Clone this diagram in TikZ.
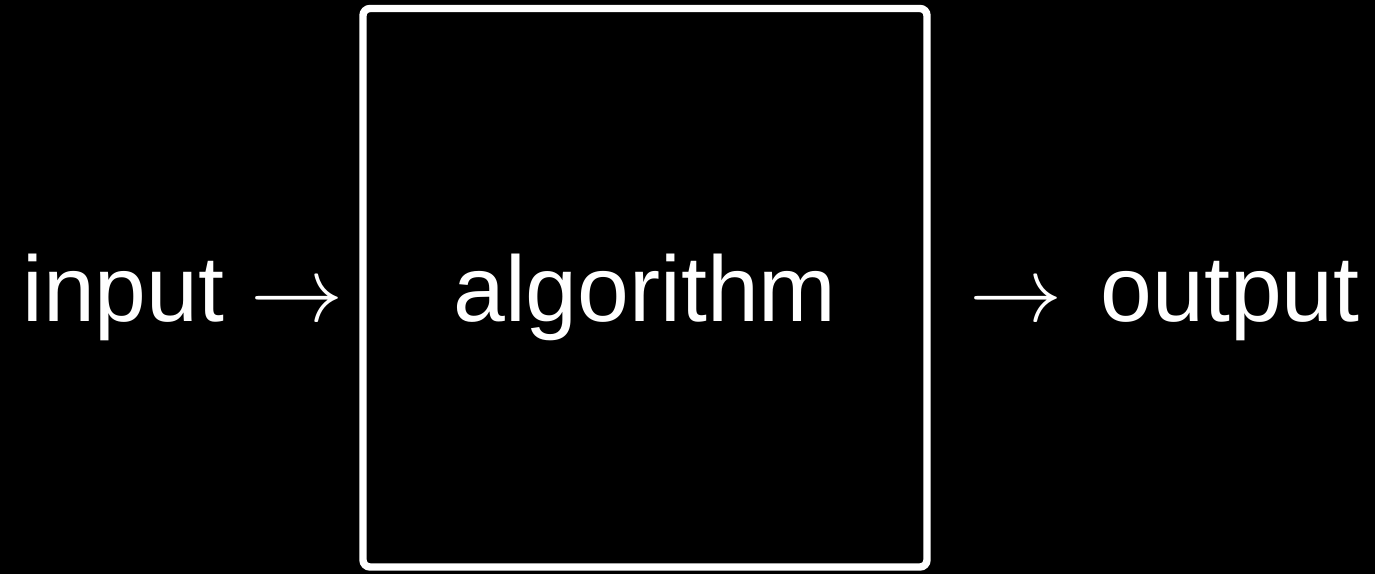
\RequirePackage{fix-cm}
\documentclass[tikz,border=0pt]{standalone}
\usepackage{fontspec}
\setmainfont{Liberation Sans}
\usetikzlibrary{positioning}
\newcommand{\bigword}{\fontsize{53}{62}\selectfont}
\tikzset{
  word/.style={text=white, font=\bigword, inner sep=0pt},
  algbox/.style={draw=white, line width=4.2pt, rounded corners=4pt,
                 minimum width=11.28cm, minimum height=11.17cm,
                 text=white, font=\bigword,
                 text height=1.33cm, text depth=0cm},
}

\begin{document}
\begin{tikzpicture}
  \def\W{27.5}\def\H{11.48}
  \def\YB{5.06}
  \useasboundingbox (0,0) rectangle (\W,\H);
  \fill[black] (0,0) rectangle (\W,\H);

  \node[algbox] (algo) at (12.9,5.725) {algorithm};
  \node[word, anchor=base west] (inp) at (0.44,\YB) {input $\rightarrow$};
  \node[word, anchor=base east] (out) at (27.2,\YB) {$\rightarrow$\hspace{0.13em} output};
\end{tikzpicture}
\end{document}
